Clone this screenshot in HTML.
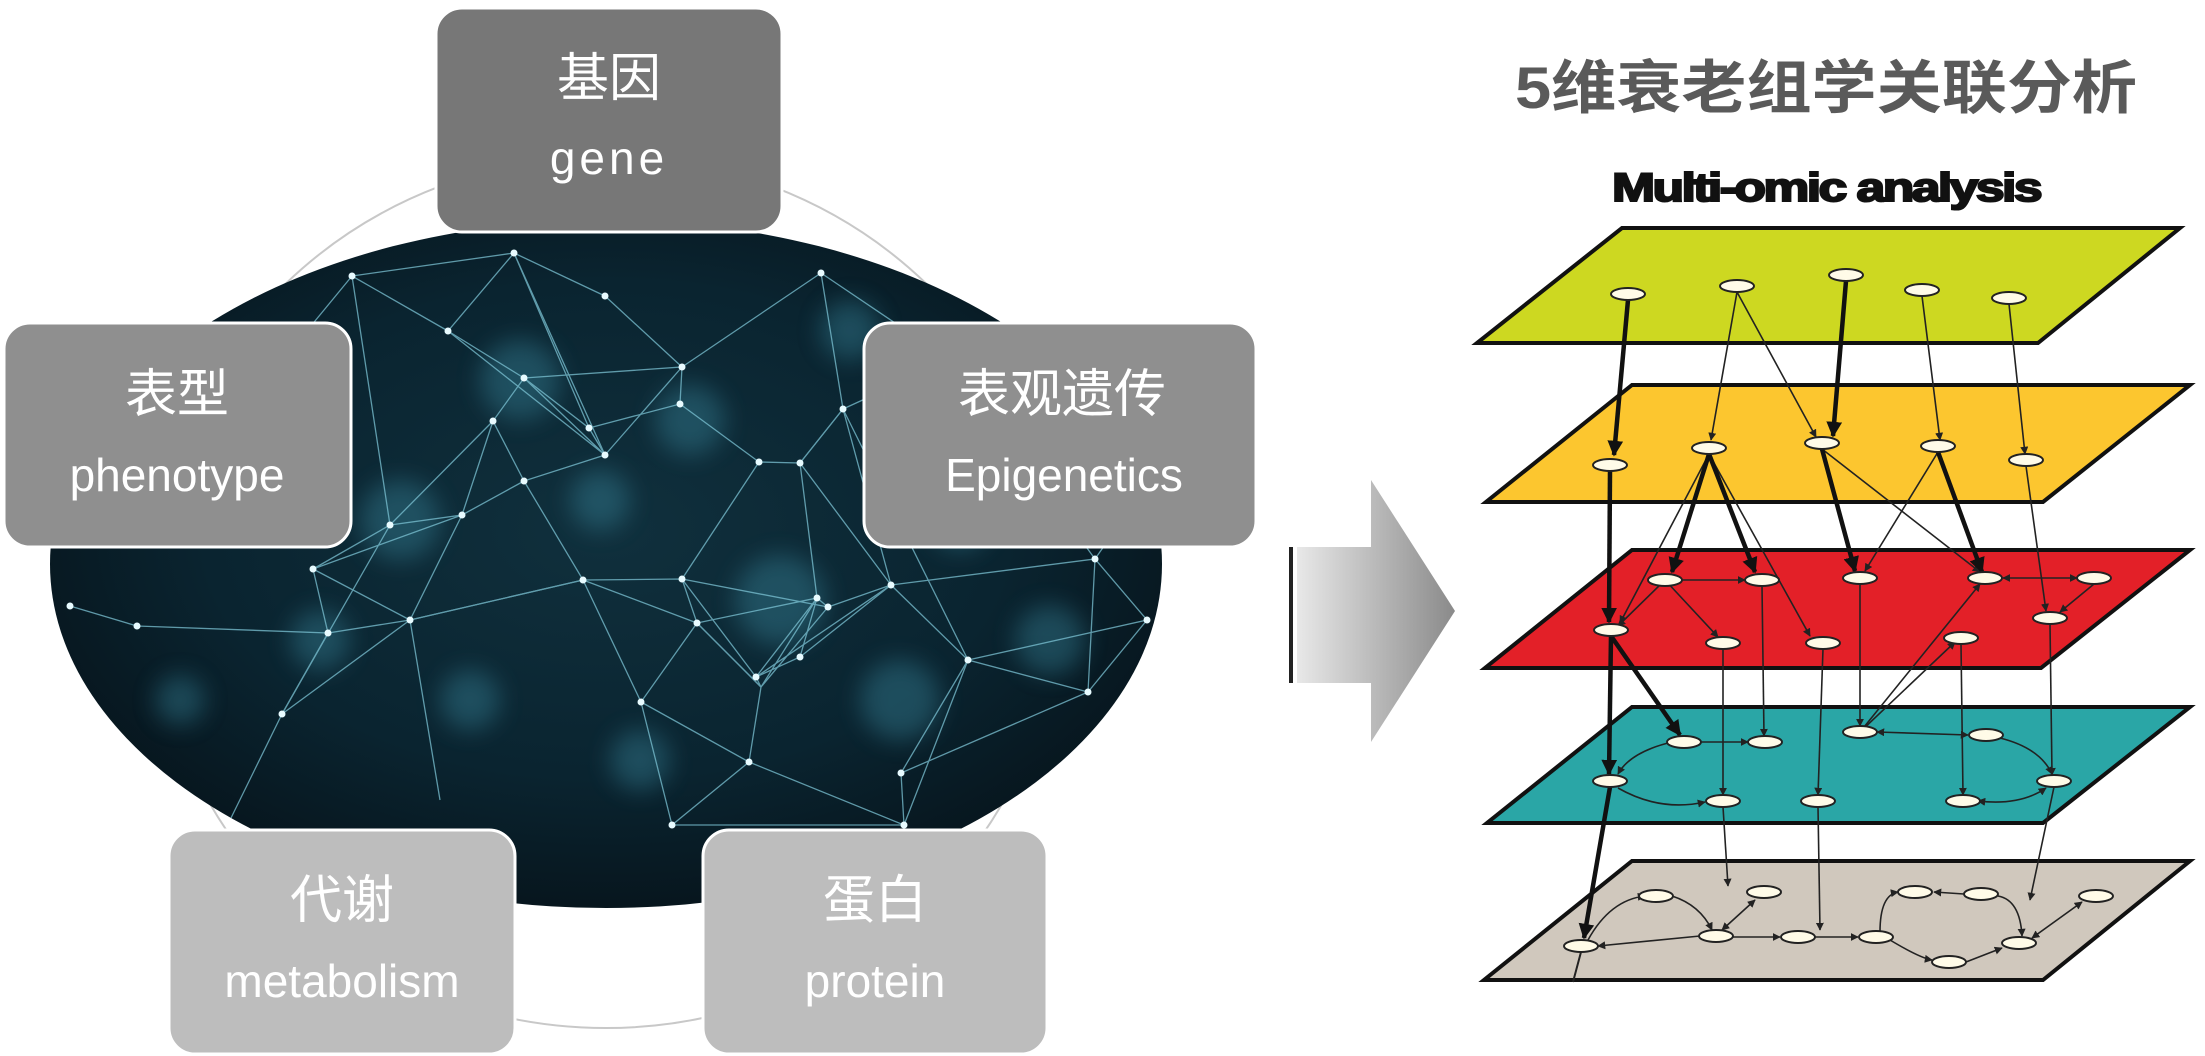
<!DOCTYPE html>
<html><head><meta charset="utf-8"><style>
html,body{margin:0;padding:0;background:#fff;width:2205px;height:1056px;overflow:hidden}
svg{display:block}
</style></head><body>
<svg width="2205" height="1056" viewBox="0 0 2205 1056" xmlns="http://www.w3.org/2000/svg">
<defs>
<radialGradient id="bg" cx="0.5" cy="0.45" r="0.6">
<stop offset="0" stop-color="#10303d"/><stop offset="0.6" stop-color="#0a2430"/><stop offset="1" stop-color="#061219"/>
</radialGradient>
<clipPath id="ec"><ellipse cx="606" cy="564" rx="556" ry="344"/></clipPath>
<filter id="blur"><feGaussianBlur stdDeviation="12"/></filter>
<linearGradient id="ag" x1="0" y1="0" x2="1" y2="0"><stop offset="0" stop-color="#e8e8e8"/><stop offset="1" stop-color="#8a8a8a"/></linearGradient>
<marker id="ar" viewBox="0 0 10 10" refX="9" refY="5" markerWidth="5" markerHeight="5" orient="auto-start-reverse"><path d="M0 0L10 5L0 10z" fill="#222"/></marker>
<marker id="arb" viewBox="0 0 10 10" refX="9" refY="5" markerWidth="3.5" markerHeight="3.5" orient="auto"><path d="M0 0L10 5L0 10z" fill="#111"/></marker>
</defs>

<ellipse cx="606" cy="592" rx="453" ry="436" fill="none" stroke="#c8c8c8" stroke-width="2"/>

<ellipse cx="606" cy="564" rx="556" ry="344" fill="url(#bg)"/>
<g clip-path="url(#ec)">
<g filter="url(#blur)" fill="#3a8aa0" opacity="0.4">
<circle cx="520" cy="380" r="40"/><circle cx="690" cy="420" r="35"/><circle cx="780" cy="600" r="45"/><circle cx="400" cy="520" r="40"/><circle cx="900" cy="700" r="40"/><circle cx="320" cy="640" r="30"/><circle cx="1050" cy="640" r="35"/><circle cx="250" cy="450" r="30"/><circle cx="850" cy="330" r="30"/><circle cx="640" cy="760" r="30"/><circle cx="180" cy="700" r="25"/><circle cx="600" cy="500" r="30"/><circle cx="960" cy="520" r="30"/><circle cx="470" cy="700" r="30"/>
</g>
<g stroke="#7cc3d4" stroke-width="1.3" opacity="0.75" fill="none">
<path d="M514 253L448 331L524 378L493 421L524 481L605 455L589 428L524 378L682 367L680 404L589 428"/>
<path d="M448 331L352 276L390 525L462 515L493 421L390 525L313 569L328 633L410 620L462 515"/>
<path d="M137 626L70 606M137 626L328 633L282 714L410 620L313 569"/>
<path d="M524 481L583 580L682 579L697 623L817 598L828 607L891 585L800 657L756 677L761 687L697 623L641 702L749 762L761 687L817 598L800 657"/>
<path d="M680 404L759 462L800 463L843 409L821 273M759 462L682 579M800 463L817 598M843 409L968 660M891 585L968 660L1088 692L1147 620L1095 559L891 585"/>
<path d="M749 762L672 825L904 825L901 773L968 660M901 773L1088 692M641 702L672 825M605 296L514 253L605 455M605 296L682 367"/>
<path d="M583 580L410 620M282 714L230 820M410 620L440 800M1095 559L1150 480M843 409L950 360M352 276L250 400"/>
<path d="M514 253L589 428M448 331L605 455M524 378L605 455M682 367L605 455M524 481L462 515M682 579L756 677M697 623L761 687M817 598L756 677M828 607L761 687M891 585L756 677M682 579L828 607M583 580L697 623M641 702L583 580M390 525L282 714M313 569L462 515M843 409L891 585M800 463L891 585M843 409L800 463M968 660L1147 620M1088 692L1095 559M904 825L968 660M749 762L904 825M410 620L583 580M352 276L514 253M821 273L682 367M821 273L950 360M950 360L1095 559"/>
</g>
<g fill="#e8fbff">
<circle cx="514" cy="253" r="3.5"/><circle cx="448" cy="331" r="3.5"/><circle cx="524" cy="378" r="3.5"/><circle cx="682" cy="367" r="3.5"/><circle cx="680" cy="404" r="3.5"/><circle cx="493" cy="421" r="3.5"/><circle cx="589" cy="428" r="3.5"/><circle cx="524" cy="481" r="3.5"/><circle cx="605" cy="455" r="3.5"/><circle cx="843" cy="409" r="3.5"/><circle cx="800" cy="463" r="3.5"/><circle cx="759" cy="462" r="3.5"/><circle cx="390" cy="525" r="3.5"/><circle cx="462" cy="515" r="3.5"/><circle cx="313" cy="569" r="3.5"/><circle cx="410" cy="620" r="3.5"/><circle cx="328" cy="633" r="3.5"/><circle cx="137" cy="626" r="3.5"/><circle cx="70" cy="606" r="3.5"/><circle cx="282" cy="714" r="3.5"/><circle cx="583" cy="580" r="3.5"/><circle cx="682" cy="579" r="3.5"/><circle cx="697" cy="623" r="3.5"/><circle cx="817" cy="598" r="3.5"/><circle cx="828" cy="607" r="3.5"/><circle cx="891" cy="585" r="3.5"/><circle cx="800" cy="657" r="3.5"/><circle cx="756" cy="677" r="3.5"/><circle cx="641" cy="702" r="3.5"/><circle cx="749" cy="762" r="3.5"/><circle cx="968" cy="660" r="3.5"/><circle cx="901" cy="773" r="3.5"/><circle cx="1088" cy="692" r="3.5"/><circle cx="1147" cy="620" r="3.5"/><circle cx="672" cy="825" r="3.5"/><circle cx="904" cy="825" r="3.5"/><circle cx="1095" cy="559" r="3.5"/><circle cx="352" cy="276" r="3.5"/><circle cx="821" cy="273" r="3.5"/><circle cx="605" cy="296" r="3.5"/>
</g>
</g>

<g font-family="Liberation Sans, Noto Sans CJK SC, sans-serif" fill="#fff" text-anchor="middle">
<rect x="436" y="8" width="346" height="224" rx="26" fill="#777" stroke="#fff" stroke-width="3"/>
<text x="609" y="96" font-size="52" font-family="Noto Sans CJK SC, sans-serif">基因</text>
<text x="609" y="174" font-size="46" letter-spacing="4">gene</text>

<rect x="4" y="323" width="347" height="224" rx="26" fill="#8f8f8f" stroke="#fff" stroke-width="3"/>
<text x="177" y="412" font-size="52" font-family="Noto Sans CJK SC, sans-serif">表型</text>
<text x="177" y="491" font-size="46">phenotype</text>

<rect x="864" y="323" width="392" height="224" rx="26" fill="#8f8f8f" stroke="#fff" stroke-width="3"/>
<text x="1062" y="412" font-size="52" font-family="Noto Sans CJK SC, sans-serif">表观遗传</text>
<text x="1064" y="491" font-size="46">Epigenetics</text>

<rect x="169" y="830" width="346" height="224" rx="26" fill="#bdbdbd" stroke="#fff" stroke-width="3"/>
<text x="342" y="918" font-size="52" font-family="Noto Sans CJK SC, sans-serif">代谢</text>
<text x="342" y="997" font-size="46">metabolism</text>

<rect x="703" y="830" width="344" height="224" rx="26" fill="#bdbdbd" stroke="#fff" stroke-width="3"/>
<text x="875" y="918" font-size="52" font-family="Noto Sans CJK SC, sans-serif">蛋白</text>
<text x="875" y="997" font-size="46">protein</text>
</g>

<path d="M1297 547L1371 547L1371 480L1455 611L1371 742L1371 683L1297 683Z" fill="url(#ag)"/>
<path d="M1291 547L1291 683" stroke="#222" stroke-width="4"/>

<text x="1515" y="108" font-size="58" font-weight="bold" fill="#5a5a5a" font-family="Liberation Sans, Noto Sans CJK SC, sans-serif" textLength="622" lengthAdjust="spacingAndGlyphs">5维衰老组学关联分析</text>
<text x="1612" y="201" font-size="40" font-weight="bold" fill="#111" stroke="#111" stroke-width="2" font-family="Liberation Sans, sans-serif" textLength="428" lengthAdjust="spacingAndGlyphs" letter-spacing="-2">Multi-omic analysis</text>

<g stroke="#111" stroke-width="4">
<path d="M1622 228L2180 228L2038 343L1477 343Z" fill="#cdd821"/>
<path d="M1632 385L2190 385L2043 502L1486 502Z" fill="#fcc62f"/>
<path d="M1632 550L2190 550L2041 668L1485 668Z" fill="#e32028"/>
<path d="M1632 707L2190 707L2043 823L1487 823Z" fill="#2aa6a6"/>
<path d="M1632 861L2190 861L2043 980L1484 980Z" fill="#d0c8bd"/>
</g>

<g stroke="#222" stroke-width="1.6" fill="none" marker-end="url(#ar)">
<path d="M1737 292L1711 440"/><path d="M1737 292L1816 437"/><path d="M1922 296L1940 440"/><path d="M2009 304L2025 454"/>
<path d="M1709 454L1620 623"/><path d="M1709 454L1810 636"/><path d="M1822 449L1980 572"/><path d="M1938 452L1865 571"/><path d="M2026 466L2046 611"/>
<path d="M1665 580L1745 580" marker-start="url(#ar)"/><path d="M1665 580L1618 626"/><path d="M1665 580L1718 637"/><path d="M2077 578L2003 578" marker-start="url(#ar)"/><path d="M2094 584L2060 612"/>
<path d="M1723 649L1723 795"/><path d="M1762 586L1764 736"/><path d="M1823 649L1818 795"/><path d="M1860 584L1860 726"/><path d="M1961 644L1963 795"/><path d="M2050 624L2052 775"/><path d="M1860 732L1980 584"/><path d="M1860 732L1955 642"/>
<path d="M1684 742L1748 742" marker-start="url(#ar)"/><path d="M1672 742Q1630 752 1618 774"/><path d="M1618 788Q1660 812 1705 802"/><path d="M1877 732L1968 735" marker-start="url(#ar)"/><path d="M2000 738Q2040 748 2052 774"/><path d="M1978 801Q2020 806 2046 788" marker-start="url(#ar)"/>
<path d="M1723 807L1728 886"/><path d="M1818 807L1820 930"/><path d="M2054 787L2030 900"/>
<path d="M1588 940Q1610 900 1645 896"/><path d="M1672 896Q1700 905 1712 930"/><path d="M1700 936L1598 946"/><path d="M1722 930L1755 900" marker-start="url(#ar)"/><path d="M1733 937L1780 937"/><path d="M1815 937L1858 937"/><path d="M1880 932Q1880 895 1898 892"/><path d="M1964 894L1934 892"/><path d="M1890 940Q1920 958 1932 960"/><path d="M1966 962L2002 948"/><path d="M2032 938L2082 902" marker-start="url(#ar)"/><path d="M1998 896Q2020 900 2022 936"/>
</g>
<g stroke="#111" stroke-width="4.5" fill="none" marker-end="url(#arb)">
<path d="M1628 300L1614 455"/><path d="M1846 281L1833 436"/><path d="M1610 471L1609 622"/><path d="M1709 454L1672 572"/><path d="M1709 454L1755 572"/><path d="M1822 449L1855 571"/><path d="M1938 452L1982 572"/><path d="M1611 636L1609 774"/><path d="M1611 636L1680 735"/><path d="M1610 787L1584 938"/>
</g>
<path d="M1581 952L1573 982" stroke="#222" stroke-width="2"/>

<g fill="#fffbe8" stroke="#222" stroke-width="2">
<ellipse cx="1628" cy="294" rx="17" ry="6"/><ellipse cx="1737" cy="286" rx="17" ry="6"/><ellipse cx="1846" cy="275" rx="17" ry="6"/><ellipse cx="1922" cy="290" rx="17" ry="6"/><ellipse cx="2009" cy="298" rx="17" ry="6"/>
<ellipse cx="1610" cy="465" rx="17" ry="6"/><ellipse cx="1709" cy="448" rx="17" ry="6"/><ellipse cx="1822" cy="443" rx="17" ry="6"/><ellipse cx="1938" cy="446" rx="17" ry="6"/><ellipse cx="2026" cy="460" rx="17" ry="6"/>
<ellipse cx="1665" cy="580" rx="17" ry="6"/><ellipse cx="1762" cy="580" rx="17" ry="6"/><ellipse cx="1860" cy="578" rx="17" ry="6"/><ellipse cx="1985" cy="578" rx="17" ry="6"/><ellipse cx="2094" cy="578" rx="17" ry="6"/><ellipse cx="1611" cy="630" rx="17" ry="6"/><ellipse cx="1723" cy="643" rx="17" ry="6"/><ellipse cx="1823" cy="643" rx="17" ry="6"/><ellipse cx="1961" cy="638" rx="17" ry="6"/><ellipse cx="2050" cy="618" rx="17" ry="6"/>
<ellipse cx="1684" cy="742" rx="17" ry="6"/><ellipse cx="1765" cy="742" rx="17" ry="6"/><ellipse cx="1860" cy="732" rx="17" ry="6"/><ellipse cx="1986" cy="735" rx="17" ry="6"/><ellipse cx="1610" cy="781" rx="17" ry="6"/><ellipse cx="1723" cy="801" rx="17" ry="6"/><ellipse cx="1818" cy="801" rx="17" ry="6"/><ellipse cx="1963" cy="801" rx="17" ry="6"/><ellipse cx="2054" cy="781" rx="17" ry="6"/>
<ellipse cx="1656" cy="896" rx="17" ry="6"/><ellipse cx="1764" cy="892" rx="17" ry="6"/><ellipse cx="1915" cy="892" rx="17" ry="6"/><ellipse cx="1981" cy="894" rx="17" ry="6"/><ellipse cx="2096" cy="896" rx="17" ry="6"/><ellipse cx="1581" cy="946" rx="17" ry="6"/><ellipse cx="1716" cy="936" rx="17" ry="6"/><ellipse cx="1798" cy="937" rx="17" ry="6"/><ellipse cx="1876" cy="937" rx="17" ry="6"/><ellipse cx="2019" cy="943" rx="17" ry="6"/><ellipse cx="1949" cy="962" rx="17" ry="6"/>
</g>
</svg>
</body></html>
